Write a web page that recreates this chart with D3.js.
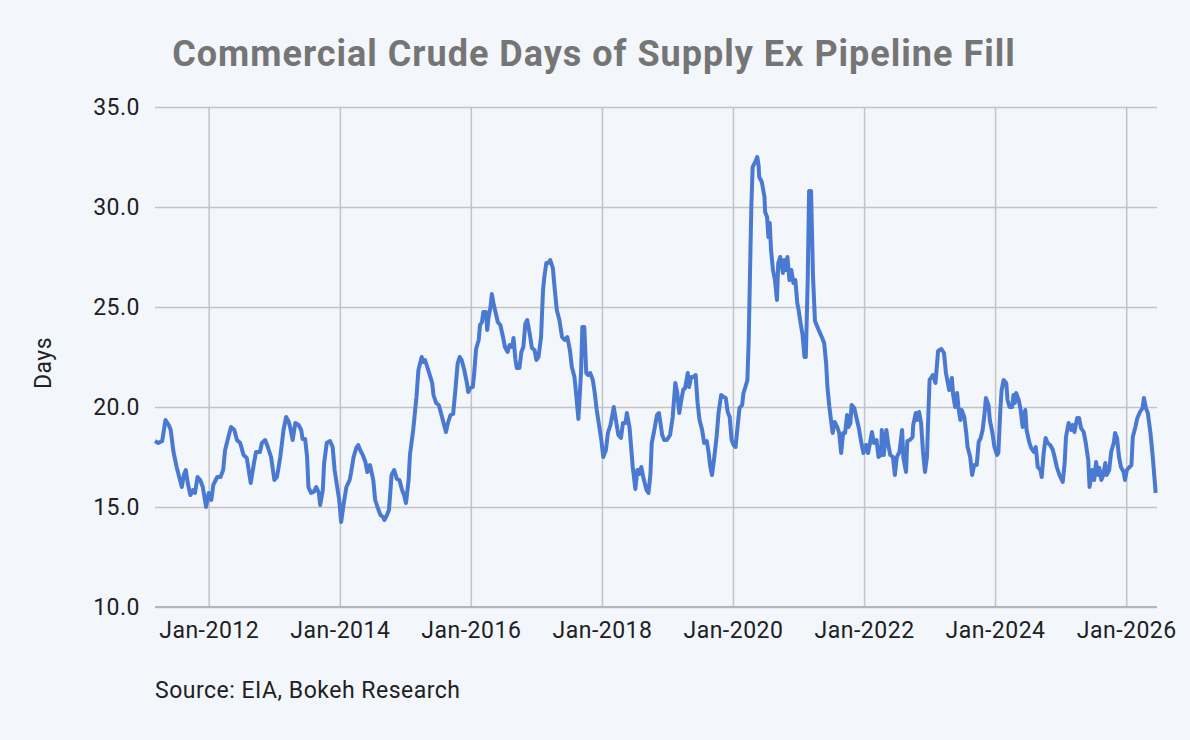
<!DOCTYPE html>
<html>
<head>
<meta charset="utf-8">
<script src="https://cdn.jsdelivr.net/npm/d3@7"></script>
<style>
  html, body { margin: 0; padding: 0; background: #f3f6fa; }
  #chart svg { display: block; }
</style>
</head>
<body>
<div id="chart"></div>
<script>
// Weekly readings taken off the chart (decimal year, days of supply)
const years = [
  2011.18, 2011.23, 2011.29, 2011.34, 2011.39, 2011.42, 2011.46, 2011.51, 2011.55, 2011.59,
  2011.62, 2011.65, 2011.68, 2011.72, 2011.76, 2011.79, 2011.83, 2011.87, 2011.91, 2011.96,
  2012.00, 2012.04, 2012.07, 2012.13, 2012.18, 2012.22, 2012.25, 2012.30, 2012.34, 2012.39,
  2012.43, 2012.48, 2012.53, 2012.58, 2012.64, 2012.69, 2012.72, 2012.78, 2012.81, 2012.86,
  2012.90, 2012.95, 2013.00, 2013.04, 2013.09, 2013.14, 2013.18, 2013.22, 2013.24, 2013.28,
  2013.32, 2013.37, 2013.41, 2013.43, 2013.47, 2013.50, 2013.52, 2013.56, 2013.60, 2013.64,
  2013.68, 2013.70, 2013.74, 2013.76, 2013.80, 2013.85, 2013.89, 2013.92, 2013.96, 2013.99,
  2014.02, 2014.06, 2014.10, 2014.15, 2014.17, 2014.21, 2014.25, 2014.28, 2014.31, 2014.35,
  2014.39, 2014.42, 2014.46, 2014.51, 2014.54, 2014.58, 2014.62, 2014.66, 2014.68, 2014.72,
  2014.75, 2014.79, 2014.83, 2014.87, 2014.91, 2014.95, 2014.98, 2015.01, 2015.05, 2015.07,
  2015.12, 2015.17, 2015.20, 2015.25, 2015.27, 2015.30, 2015.35, 2015.41, 2015.43, 2015.47,
  2015.51, 2015.54, 2015.58, 2015.62, 2015.65, 2015.69, 2015.73, 2015.76, 2015.80, 2015.83,
  2015.86, 2015.90, 2015.94, 2015.96, 2015.99, 2016.03, 2016.05, 2016.08, 2016.12, 2016.14,
  2016.17, 2016.19, 2016.23, 2016.25, 2016.27, 2016.30, 2016.32, 2016.35, 2016.38, 2016.41,
  2016.45, 2016.49, 2016.52, 2016.56, 2016.59, 2016.63, 2016.65, 2016.68, 2016.70, 2016.74,
  2016.77, 2016.80, 2016.83, 2016.86, 2016.90, 2016.93, 2016.97, 2017.00, 2017.03, 2017.07,
  2017.10, 2017.12, 2017.15, 2017.18, 2017.21, 2017.25, 2017.28, 2017.31, 2017.35, 2017.39,
  2017.43, 2017.47, 2017.51, 2017.54, 2017.58, 2017.61, 2017.64, 2017.68, 2017.70, 2017.73,
  2017.76, 2017.79, 2017.82, 2017.86, 2017.89, 2017.92, 2017.96, 2017.99, 2018.02, 2018.06,
  2018.09, 2018.13, 2018.18, 2018.22, 2018.25, 2018.29, 2018.32, 2018.36, 2018.38, 2018.42,
  2018.44, 2018.47, 2018.51, 2018.54, 2018.57, 2018.60, 2018.63, 2018.68, 2018.71, 2018.74,
  2018.76, 2018.80, 2018.84, 2018.87, 2018.92, 2018.95, 2018.99, 2019.04, 2019.08, 2019.12,
  2019.15, 2019.18, 2019.22, 2019.24, 2019.27, 2019.31, 2019.33, 2019.36, 2019.40, 2019.43,
  2019.46, 2019.49, 2019.53, 2019.56, 2019.60, 2019.63, 2019.65, 2019.68, 2019.71, 2019.75,
  2019.78, 2019.82, 2019.86, 2019.89, 2019.92, 2019.95, 2019.98, 2020.01, 2020.04, 2020.07,
  2020.10, 2020.14, 2020.16, 2020.19, 2020.22, 2020.24, 2020.26, 2020.28, 2020.30, 2020.34,
  2020.37, 2020.39, 2020.40, 2020.44, 2020.48, 2020.49, 2020.52, 2020.54, 2020.56, 2020.58,
  2020.61, 2020.64, 2020.67, 2020.69, 2020.72, 2020.76, 2020.78, 2020.81, 2020.83, 2020.86,
  2020.89, 2020.92, 2020.95, 2020.98, 2021.00, 2021.03, 2021.06, 2021.09, 2021.11, 2021.14,
  2021.16, 2021.19, 2021.22, 2021.25, 2021.30, 2021.36, 2021.39, 2021.42, 2021.44, 2021.47,
  2021.50, 2021.52, 2021.55, 2021.59, 2021.62, 2021.65, 2021.68, 2021.71, 2021.74, 2021.76,
  2021.79, 2021.81, 2021.85, 2021.88, 2021.92, 2021.95, 2021.99, 2022.03, 2022.06, 2022.09,
  2022.12, 2022.15, 2022.19, 2022.22, 2022.26, 2022.27, 2022.30, 2022.34, 2022.37, 2022.40,
  2022.44, 2022.47, 2022.50, 2022.54, 2022.58, 2022.60, 2022.64, 2022.66, 2022.70, 2022.74,
  2022.75, 2022.79, 2022.81, 2022.84, 2022.87, 2022.90, 2022.93, 2022.96, 2022.98, 2023.00,
  2023.05, 2023.09, 2023.13, 2023.18, 2023.22, 2023.25, 2023.27, 2023.30, 2023.34, 2023.36,
  2023.39, 2023.42, 2023.44, 2023.47, 2023.49, 2023.53, 2023.56, 2023.58, 2023.62, 2023.65,
  2023.68, 2023.72, 2023.75, 2023.78, 2023.81, 2023.84, 2023.86, 2023.90, 2023.92, 2023.96,
  2023.99, 2024.03, 2024.05, 2024.08, 2024.10, 2024.13, 2024.17, 2024.19, 2024.22, 2024.26,
  2024.28, 2024.30, 2024.32, 2024.36, 2024.39, 2024.42, 2024.46, 2024.48, 2024.52, 2024.55,
  2024.59, 2024.62, 2024.65, 2024.69, 2024.71, 2024.74, 2024.77, 2024.80, 2024.84, 2024.88,
  2024.91, 2024.94, 2024.98, 2025.03, 2025.06, 2025.08, 2025.12, 2025.16, 2025.18, 2025.21,
  2025.25, 2025.28, 2025.31, 2025.35, 2025.38, 2025.42, 2025.44, 2025.48, 2025.51, 2025.54,
  2025.57, 2025.59, 2025.62, 2025.65, 2025.68, 2025.70, 2025.74, 2025.77, 2025.81, 2025.83,
  2025.86, 2025.89, 2025.92, 2025.96, 2025.98, 2026.01, 2026.05, 2026.08, 2026.10, 2026.14,
  2026.17, 2026.21, 2026.25, 2026.27, 2026.30, 2026.33, 2026.37, 2026.40, 2026.43, 2026.45
];

const daysOfSupply = [
  18.3, 18.2, 18.3, 19.35, 19.1, 18.85, 17.8, 17.0, 16.5, 16.0,
  16.6, 16.85, 16.2, 15.6, 15.85, 15.7, 16.5, 16.35, 16.0, 15.0,
  15.7, 15.35, 16.1, 16.5, 16.5, 16.85, 17.85, 18.5, 19.0, 18.85,
  18.35, 18.2, 17.6, 17.45, 16.2, 17.2, 17.75, 17.75, 18.2, 18.35,
  18.0, 17.5, 16.35, 16.5, 17.5, 18.85, 19.5, 19.25, 19.0, 18.35,
  19.2, 19.1, 18.85, 18.4, 18.4, 17.5, 16.0, 15.7, 15.75, 16.0,
  15.7, 15.1, 15.85, 17.2, 18.2, 18.3, 18.0, 16.85, 16.0, 15.35,
  14.25, 15.2, 16.0, 16.35, 16.7, 17.5, 17.95, 18.1, 17.85, 17.6,
  17.25, 16.75, 17.1, 16.35, 15.35, 14.95, 14.6, 14.5, 14.35, 14.6,
  14.85, 16.6, 16.85, 16.4, 16.35, 15.85, 15.6, 15.2, 16.35, 17.6,
  18.85, 20.5, 21.85, 22.5, 22.25, 22.35, 21.85, 21.2, 20.6, 20.2,
  20.1, 19.75, 19.25, 18.75, 19.2, 19.6, 19.65, 20.7, 22.2, 22.5,
  22.35, 21.85, 21.2, 20.75, 20.95, 21.0, 21.65, 22.9, 23.35, 24.1,
  24.25, 24.75, 24.75, 23.85, 24.5, 25.0, 25.65, 25.1, 24.7, 24.25,
  24.1, 23.5, 23.0, 22.75, 23.1, 23.0, 23.45, 22.35, 21.95, 21.95,
  22.75, 23.0, 24.15, 24.35, 23.6, 22.95, 22.85, 22.35, 22.5, 23.5,
  25.85, 26.5, 27.2, 27.2, 27.35, 26.95, 25.85, 24.85, 24.35, 23.5,
  23.35, 23.5, 22.85, 22.0, 21.5, 20.5, 19.4, 21.7, 24.0, 24.0,
  21.7, 21.6, 21.7, 21.35, 20.7, 19.85, 19.0, 18.35, 17.5, 17.85,
  18.7, 19.1, 20.0, 19.2, 18.6, 18.45, 19.2, 19.2, 19.7, 19.0,
  18.2, 17.0, 15.9, 16.85, 16.65, 17.0, 16.5, 15.85, 15.7, 16.65,
  18.2, 18.85, 19.6, 19.7, 18.6, 18.35, 18.35, 18.6, 19.5, 21.2,
  20.7, 19.7, 20.5, 20.85, 20.95, 21.7, 21.0, 21.5, 21.5, 21.6,
  20.2, 19.35, 18.85, 18.2, 18.3, 17.7, 17.1, 16.6, 17.35, 18.5,
  19.7, 20.6, 20.5, 20.45, 19.75, 19.5, 18.35, 18.1, 18.0, 19.0,
  19.95, 20.1, 20.7, 21.0, 21.35, 23.35, 26.7, 30.0, 32.0, 32.25,
  32.5, 32.1, 31.5, 31.25, 30.5, 29.75, 29.5, 28.5, 29.2, 27.85,
  26.85, 26.35, 25.35, 27.2, 27.5, 26.7, 27.35, 26.85, 27.5, 26.35,
  26.85, 26.2, 26.35, 25.2, 24.85, 24.2, 23.6, 22.5, 22.5, 26.5,
  30.8, 30.8, 26.5, 24.3, 23.9, 23.45, 23.2, 22.2, 21.0, 20.0,
  19.2, 18.7, 19.25, 19.0, 18.7, 17.7, 18.7, 18.7, 19.6, 19.0,
  19.2, 20.1, 19.95, 19.5, 18.95, 18.35, 17.7, 18.1, 17.7, 18.2,
  18.75, 18.2, 18.35, 17.5, 17.6, 18.85, 17.6, 18.85, 18.1, 17.6,
  17.5, 16.6, 17.5, 17.75, 18.85, 17.45, 16.75, 18.3, 18.35, 18.5,
  19.1, 19.7, 19.35, 19.75, 19.2, 17.75, 16.75, 17.5, 19.5, 21.35,
  21.6, 21.2, 22.8, 22.9, 22.7, 21.7, 21.35, 20.85, 21.45, 20.6,
  20.0, 20.7, 20.0, 19.35, 19.85, 19.5, 18.7, 18.0, 17.5, 16.6,
  17.1, 17.1, 18.25, 18.45, 18.85, 19.7, 20.45, 20.1, 19.35, 18.7,
  18.0, 17.6, 17.7, 19.85, 20.85, 21.35, 21.2, 20.35, 20.0, 20.0,
  20.6, 20.2, 20.7, 20.35, 19.85, 19.0, 19.85, 18.85, 18.25, 17.95,
  17.75, 18.0, 17.0, 16.85, 16.5, 17.7, 18.45, 18.2, 18.1, 17.85,
  17.45, 17.0, 16.6, 16.25, 17.2, 18.5, 19.2, 18.85, 19.1, 18.75,
  19.45, 19.45, 18.95, 18.75, 18.25, 17.35, 16.0, 16.85, 16.35, 17.25,
  16.6, 16.95, 16.35, 16.6, 17.2, 16.6, 16.85, 17.75, 18.2, 18.7,
  18.45, 17.5, 17.0, 16.75, 16.35, 16.85, 17.0, 17.1, 18.5, 19.0,
  19.45, 19.75, 19.95, 20.45, 19.95, 19.7, 18.7, 17.7, 16.5, 15.7
];

const yTicks = [10, 15, 20, 25, 30, 35];
const xTickYears = [2012, 2014, 2016, 2018, 2020, 2022, 2024, 2026];

const titleText = "Commercial Crude Days of Supply Ex Pipeline Fill";
const yLabel = "Days";
const sourceText = "Source: EIA, Bokeh Research";

// decimal year -> Date
function toDate(y) {
    const yr = Math.floor(y);
    const a = new Date(yr, 0, 1), b = new Date(yr + 1, 0, 1);
    return new Date(+a + (y - yr) * (b - a));
}

const data = years.map((y, i) => ({ date: toDate(y), value: daysOfSupply[i] }));

const W = 1190, H = 740;
const margin = { top: 107, right: 33, bottom: 133, left: 155 };
const width = W - margin.left - margin.right;
const height = H - margin.top - margin.bottom;
const font = "Roboto, 'Open Sans', sans-serif";

const svg = d3.select("#chart").append("svg")
    .attr("width", W)
    .attr("height", H)
    .style("background", "#f3f6fa");

svg.append("text")
    .attr("x", 594)
    .attr("y", 66)
    .attr("text-anchor", "middle")
    .attr("font-family", font)
    .attr("font-weight", 700)
    .attr("font-size", 36)
    .attr("letter-spacing", 1)
    .attr("fill", "#757575")
    .text(titleText);

const g = svg.append("g")
    .attr("transform", "translate(" + margin.left + "," + margin.top + ")");

const x = d3.scaleTime()
    .domain([toDate(2011.18), toDate(2026.47)])
    .range([0, width]);

const y = d3.scaleLinear()
    .domain([10, 35])
    .range([height, 0]);

// horizontal grid + y labels
g.append("g")
    .call(d3.axisLeft(y).tickValues(yTicks).tickSize(-width).tickPadding(15).tickFormat(d3.format(".1f")))
    .call(a => a.select(".domain").remove())
    .call(a => a.selectAll(".tick line").attr("stroke", "#c3c4c6").attr("stroke-width", 1.5))
    .call(a => a.selectAll(".tick text")
        .attr("font-family", font)
        .attr("font-size", 23)
        .attr("letter-spacing", 0.5)
        .attr("fill", "#202124"));

// vertical grid + x labels
g.append("g")
    .attr("transform", "translate(0," + height + ")")
    .call(d3.axisBottom(x)
        .tickValues(xTickYears.map(yr => new Date(yr, 0, 1)))
        .tickSize(-height)
        .tickPadding(15)
        .tickFormat(d3.timeFormat("%b-%Y")))
    .call(a => a.select(".domain").remove())
    .call(a => a.selectAll(".tick line").attr("stroke", "#c3c4c6").attr("stroke-width", 1.5))
    .call(a => a.selectAll(".tick text")
        .attr("font-family", font)
        .attr("font-size", 23)
        .attr("letter-spacing", 0.5)
        .attr("fill", "#202124"));

// bottom baseline
g.append("line")
    .attr("x1", 0).attr("x2", width)
    .attr("y1", height).attr("y2", height)
    .attr("stroke", "#b5b6b8")
    .attr("stroke-width", 2);

const line = d3.line()
    .x(d => x(d.date))
    .y(d => y(d.value));

g.append("path")
    .datum(data)
    .attr("d", line)
    .attr("fill", "none")
    .attr("stroke", "#4a79d1")
    .attr("stroke-width", 4)
    .attr("stroke-linejoin", "round");

// y axis title
svg.append("text")
    .attr("transform", "translate(51,363) rotate(-90)")
    .attr("text-anchor", "middle")
    .attr("font-family", font)
    .attr("font-size", 23)
    .attr("letter-spacing", 0.5)
    .attr("fill", "#202124")
    .text(yLabel);

svg.append("text")
    .attr("x", 155)
    .attr("y", 698)
    .attr("font-family", font)
    .attr("font-size", 23)
    .attr("letter-spacing", 0.5)
    .attr("fill", "#202124")
    .text(sourceText);
</script>
</body>
</html>
